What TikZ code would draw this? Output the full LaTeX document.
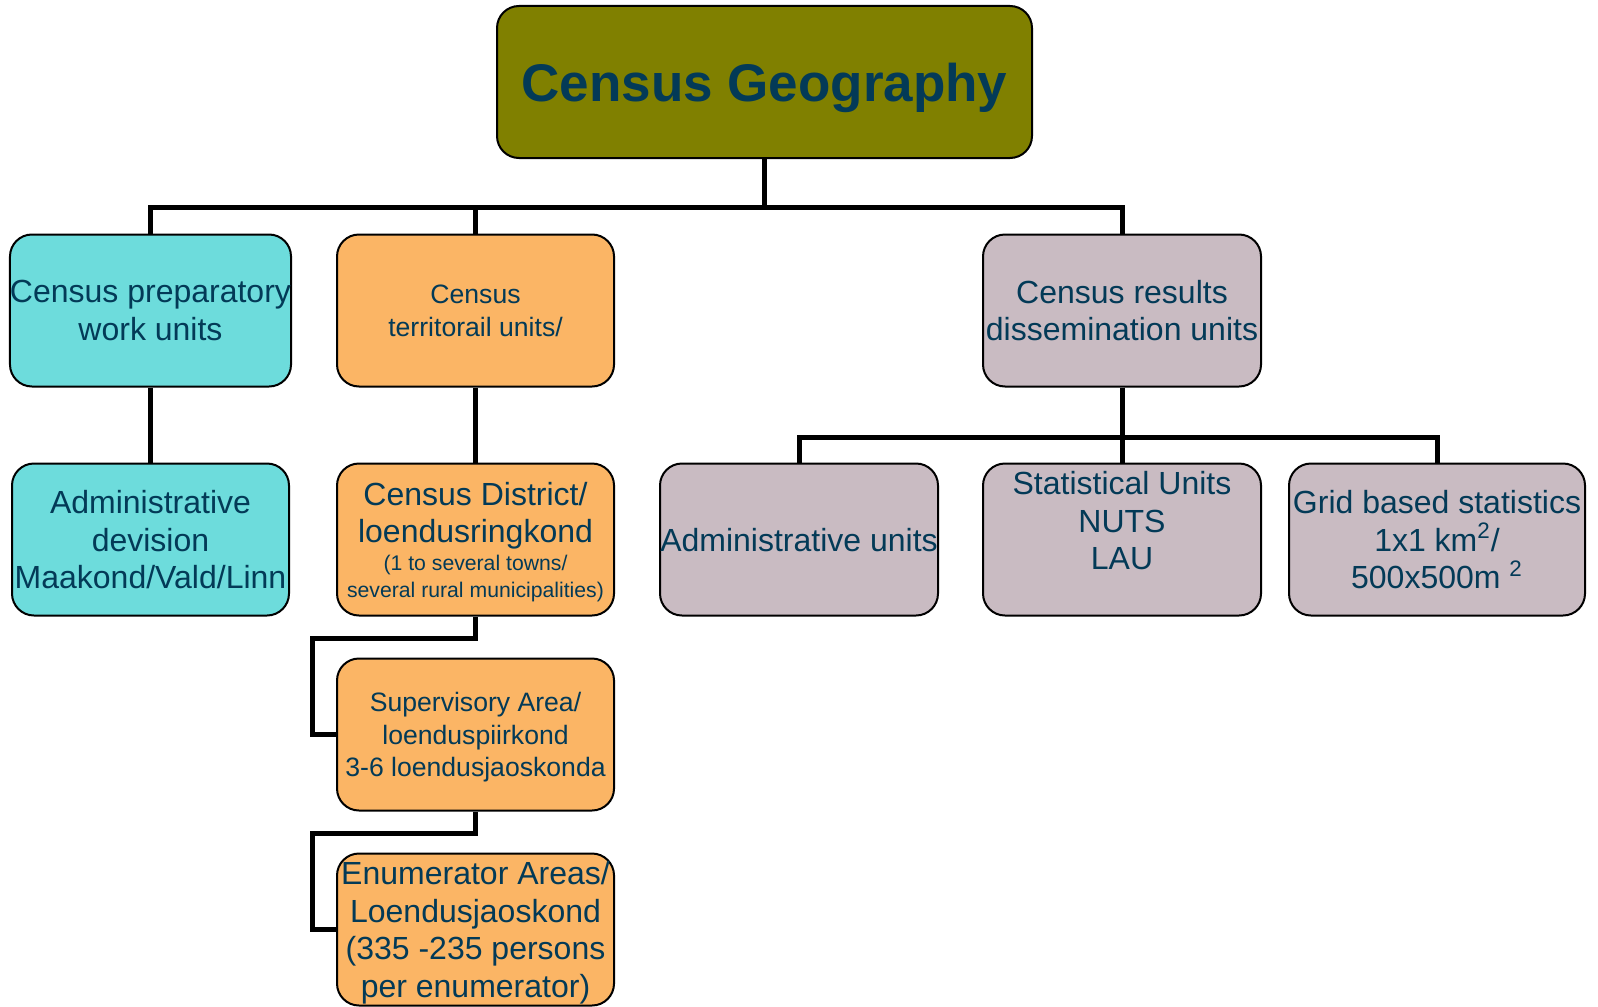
\documentclass[tikz,border=0pt]{standalone}
\usepackage{fontspec}
\setmainfont{Liberation Sans}
\usetikzlibrary{positioning,calc}
\definecolor{olivebox}{HTML}{808000}
\definecolor{cyanbox}{HTML}{6DDCDC}
\definecolor{orangebox}{HTML}{FBB565}
\definecolor{mauvebox}{HTML}{C9BBC2}
\definecolor{navytext}{HTML}{033A57}

\begin{document}
\begin{tikzpicture}[x=0.5pt,y=-0.5pt,
            unit/.style={draw,line width=1pt,rounded corners=11pt,minimum width=138.5pt,minimum height=76pt,inner sep=0pt,align=center,text depth=0pt,text=navytext,font=\fontsize{16}{18.8}\selectfont},
            title/.style={unit,fill=olivebox,minimum width=267.5pt,text height=25.3pt,text depth=5.6pt,font=\bfseries\fontsize{26.5}{30}\selectfont},
            prep/.style={unit,fill=cyanbox},
            terr/.style={unit,fill=orangebox},
            diss/.style={unit,fill=mauvebox,minimum width=139pt},
            small/.style={font=\fontsize{13.3}{16.3}\selectfont},
            link/.style={draw,line width=2.5pt}
          ]
          \useasboundingbox (0,0) rectangle (1598,1006);

          %title
          \node[title] (geo) at (764.5,82) {Census Geography};

          %first level
          \node[prep] (prep) at (150.5,310.5) {Census preparatory\\work units};
          \node[terr,small,right=22pt of prep] (terr) {Census\\territorail units/};
          \node[diss] (diss) at (1122,310.5) {Census results\\dissemination units};

          %preparatory units
          \node[prep,below=37.5pt of prep] (adm) {Administrative\\devision\\Maakond/Vald/Linn};

          %territorial units
          \node[terr,below=37.5pt of terr] (dist) {Census District/\\loendusringkond\\[-5pt]\fontsize{10.6}{13.25}\selectfont (1 to several towns/\\[-5.5pt]\fontsize{10.6}{13.25}\selectfont several rural municipalities)};
          \node[terr,small,below=20.5pt of dist] (sup) {Supervisory Area/\\loenduspiirkond\\3-6 loendusjaoskonda};
          \node[terr,below=20.5pt of sup] (enum) {Enumerator Areas/\\Loendusjaoskond\\(335 -235 persons\\per enumerator)};

          %dissemination units
          \node[diss,below=37.5pt of diss] (stat) {Statistical Units\\NUTS\\LAU\\ ~};
          \node[diss,left=21.5pt of stat] (admu) {Administrative units};
          \node[diss,minimum width=148pt,right=13pt of stat] (grid) {Grid based statistics\\1x1 km\textsuperscript{2}/\\500x500m \textsuperscript{2}};

          %links
          \draw[link] (geo.south) -- ++(0,48) -| (prep.north);
          \draw[link] (geo.south) -- ++(0,48) -| (terr.north);
          \draw[link] (geo.south) -- ++(0,48) -| (diss.north);
          \draw[link] (prep.south) -- (adm.north);
          \draw[link] (terr.south) -- (dist.north);
          \draw[link] (dist.south) -- ++(0,22) -| ($(sup.west)+(-24,0)$) -- (sup.west);
          \draw[link] (sup.south) -- ++(0,22) -| ($(enum.west)+(-24,0)$) -- (enum.west);
          \draw[link] (diss.south) -- ++(0,50) -| (admu.north);
          \draw[link] (diss.south) -- (stat.north);
          \draw[link] (diss.south) -- ++(0,50) -| (grid.north);

      \end{tikzpicture}
\end{document}
